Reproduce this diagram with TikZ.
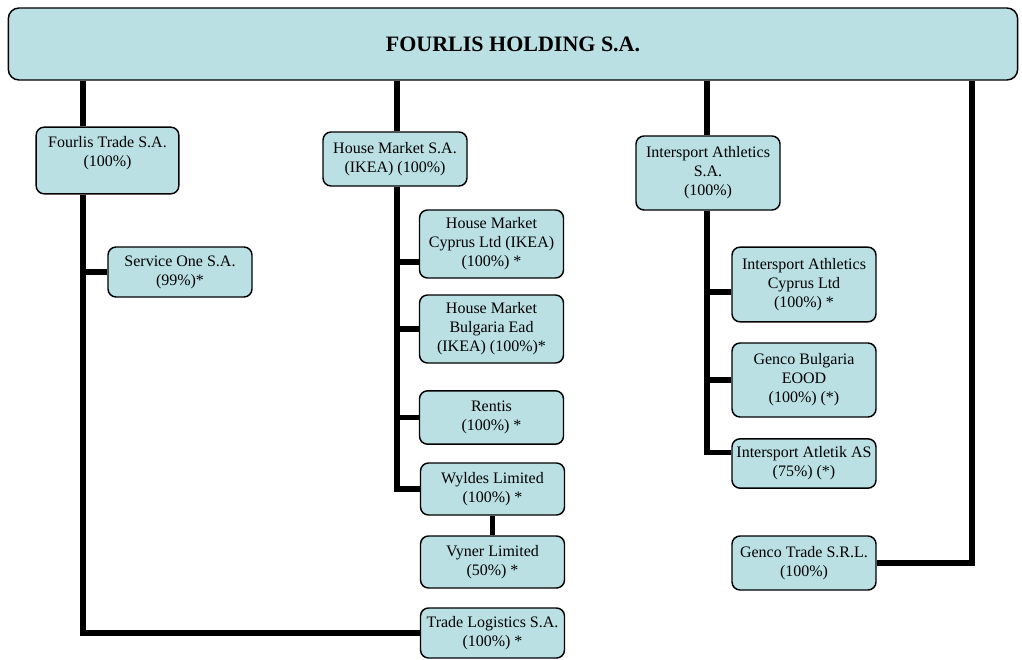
\documentclass[tikz,border=0pt]{standalone}
\usepackage{fontspec}
\setmainfont{Liberation Serif}
\definecolor{boxfill}{RGB}{186,224,227}
\tikzset{
  unit/.style={draw, fill=boxfill, line width=1.1pt, rounded corners=6pt,
    align=center, inner sep=1pt, minimum width=108pt,
    font=\fontsize{12}{14.25}\selectfont},
  link/.style={line width=3.8pt},
}

\begin{document}
\begin{tikzpicture}[x=0.75pt,y=-0.75pt]
  \useasboundingbox (0,0) rectangle (1022,660);
  \node[unit, rounded corners=8pt, minimum width=757pt, minimum height=54pt,
    font=\fontsize{16.5}{19}\selectfont\bfseries] (fh) at (513,44) {FOURLIS HOLDING S.A.};

  \node[unit, minimum width=107pt, minimum height=50pt] (ft) at (107.5,160.5) {Fourlis Trade S.A.\\(100\%)\\\mbox{}};
  \node[unit, minimum height=37.5pt] (so) at (180,272) {Service One S.A.\\(99\%)*};

  \node[unit, minimum height=40.5pt] (hm) at (395,159) {House Market S.A.\\(IKEA) (100\%)};
  \node[unit, minimum height=51pt] (hmc) at (491.5,244) {House Market\\Cyprus Ltd (IKEA)\\(100\%) *};
  \node[unit, minimum height=51pt] (hmb) at (491.5,329) {House Market\\Bulgaria Ead\\(IKEA) (100\%)*};
  \node[unit, minimum height=40pt] (ren) at (491.5,417.5) {Rentis\\(100\%) *};
  \node[unit, minimum height=39pt] (wy) at (492.5,489) {Wyldes Limited\\(100\%) *};
  \node[unit, minimum height=39pt] (vy) at (492.5,562) {Vyner Limited\\(50\%) *};
  \node[unit, minimum height=37.5pt] (tl) at (492.5,633) {Trade Logistics S.A.\\(100\%) *};

  \node[unit, minimum height=55.5pt] (ia) at (708,173) {Intersport Athletics\\S.A.\\(100\%)};
  \node[unit, minimum height=56pt] (iac) at (804,284.5) {Intersport Athletics\\Cyprus Ltd\\(100\%) *};
  \node[unit, minimum height=55.5pt] (gb) at (804,380) {Genco Bulgaria\\EOOD\\(100\%) (*)};
  \node[unit, minimum height=37pt] (iat) at (804,463.5) {Intersport Atletik AS\\(75\%) (*)};
  \node[unit, minimum height=40.5pt] (gt) at (804,563) {Genco Trade S.R.L.\\(100\%)};

  \coordinate (ta) at (83,0);
  \coordinate (tb) at (397,0);
  \coordinate (tc) at (707,0);
  \coordinate (td) at (972,0);
  \coordinate (hmcj) at ([yshift=-13.5pt]hmc.west);
  \coordinate (iacj) at ([yshift=-5.6pt]iac.west);
  \coordinate (iatj) at ([yshift=8.6pt]iat.west);

  \begin{scope}[link]
    \draw (fh.south -| ta) -- (ft.north -| ta);
    \draw (ft.south -| ta) |- (tl.west);
    \draw (so.west) -- (so.west -| ta);
    \draw (fh.south -| tb) -- (hm.north -| tb);
    \draw (hm.south -| tb) |- (wy.west);
    \draw (hmcj) -- (hmcj -| tb);
    \draw (hmb.west) -- (hmb.west -| tb);
    \draw (ren.west) -- (ren.west -| tb);
    \draw (wy.south) -- (vy.north);
    \draw (fh.south -| tc) -- (ia.north -| tc);
    \draw (ia.south -| tc) |- (iatj);
    \draw (iacj) -- (iacj -| tc);
    \draw (gb.west) -- (gb.west -| tc);
    \draw (fh.south -| td) |- (gt.east);
  \end{scope}
\end{tikzpicture}
\end{document}
